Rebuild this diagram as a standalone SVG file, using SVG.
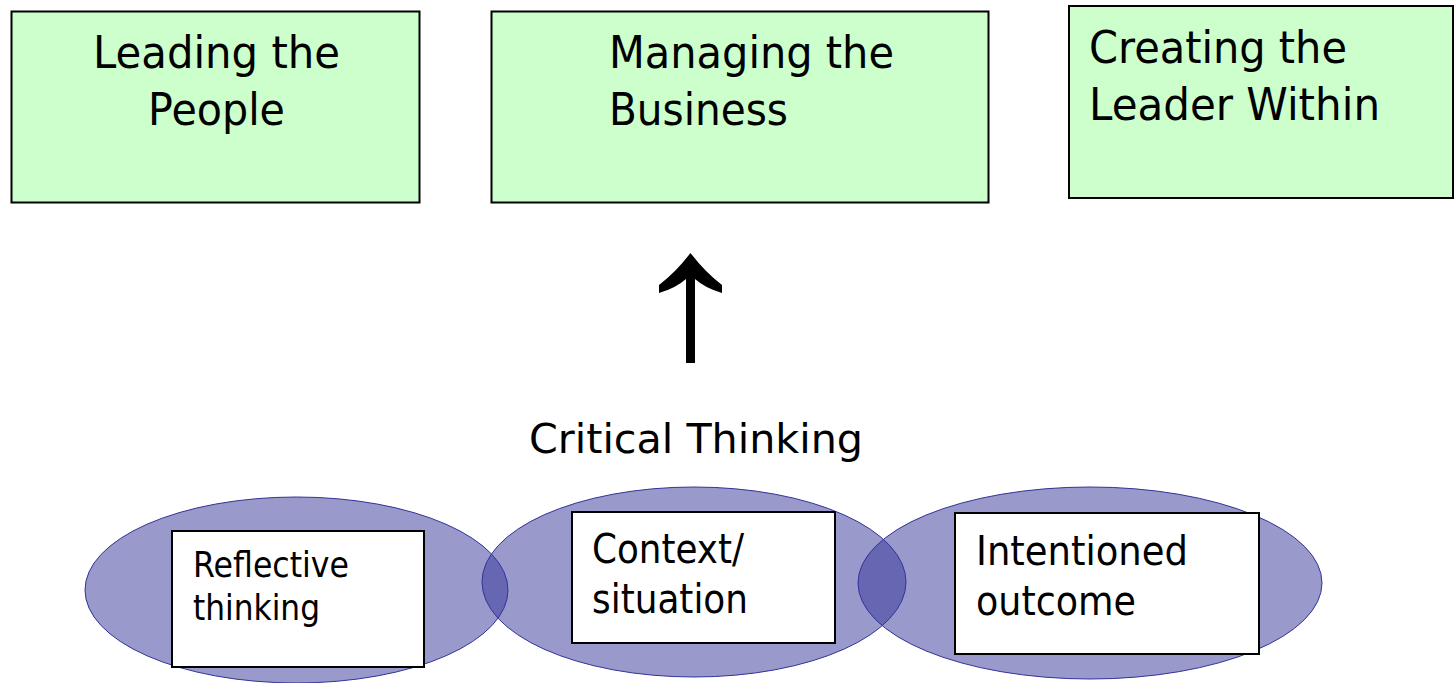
<svg xmlns="http://www.w3.org/2000/svg" width="1455" height="683" viewBox="0 0 1455 683">
<style>
.green{fill:#CCFFCC;stroke:#000;stroke-width:2}
.oval{fill:#333399;fill-opacity:0.5;stroke:#333399;stroke-width:1}
.white{fill:#FFFFFF;stroke:#000;stroke-width:2}
text{font-family:"DejaVu Sans","Liberation Sans",sans-serif;fill:#000}
.big{font-size:45px}
.mid{font-size:40px}
.small{font-size:36px}
</style>
<rect width="1455" height="683" fill="#FFFFFF"/>
<g id="leading-the-people">
<rect class="green" x="11.5" y="11.5" width="408" height="191"/>
<text class="big" x="93" y="68" textLength="247" lengthAdjust="spacingAndGlyphs">Leading the</text>
<text class="big" x="148" y="125" textLength="137" lengthAdjust="spacingAndGlyphs">People</text>
</g>
<g id="managing-the-business">
<rect class="green" x="491.5" y="11.5" width="497" height="191"/>
<text class="big" x="609" y="68" textLength="285" lengthAdjust="spacingAndGlyphs">Managing the</text>
<text class="big" x="609" y="125" textLength="179" lengthAdjust="spacingAndGlyphs">Business</text>
</g>
<g id="creating-the-leader-within">
<rect class="green" x="1069" y="6" width="384" height="192"/>
<text class="big" x="1089" y="63" textLength="258" lengthAdjust="spacingAndGlyphs">Creating the</text>
<text class="big" x="1089" y="120" textLength="291" lengthAdjust="spacingAndGlyphs">Leader Within</text>
</g>
<g id="connectors">
<path d="M690.5,253 Q676,272 659,285 L659,293 Q676,288 686,279 L686,363 L695,363 L695,279 Q705,288 722,293 L722,285 Q705,272 690.5,253 Z" fill="#000"/>
</g>
<g id="critical-thinking">
<text class="mid" x="529" y="453" textLength="334" lengthAdjust="spacingAndGlyphs">Critical Thinking</text>
</g>
<g id="ovals">
<ellipse class="oval" cx="296.5" cy="590" rx="211.5" ry="93"/>
<ellipse class="oval" cx="694" cy="582" rx="212" ry="95"/>
<ellipse class="oval" cx="1090" cy="583" rx="232" ry="96"/>
</g>
<g id="reflective-thinking">
<rect class="white" x="172" y="531" width="252" height="136"/>
<text class="small" x="193" y="577" textLength="156" lengthAdjust="spacingAndGlyphs">Reflective</text>
<text class="small" x="193" y="620" textLength="127" lengthAdjust="spacingAndGlyphs">thinking</text>
</g>
<g id="context-situation">
<rect class="white" x="572" y="512" width="263" height="131"/>
<text class="mid" x="592" y="563" textLength="152" lengthAdjust="spacingAndGlyphs">Context/</text>
<text class="mid" x="592" y="613" textLength="156" lengthAdjust="spacingAndGlyphs">situation</text>
</g>
<g id="intentioned-outcome">
<rect class="white" x="955" y="513" width="304" height="141"/>
<text class="mid" x="976" y="565" textLength="212" lengthAdjust="spacingAndGlyphs">Intentioned</text>
<text class="mid" x="976" y="615" textLength="160" lengthAdjust="spacingAndGlyphs">outcome</text>
</g>
</svg>
